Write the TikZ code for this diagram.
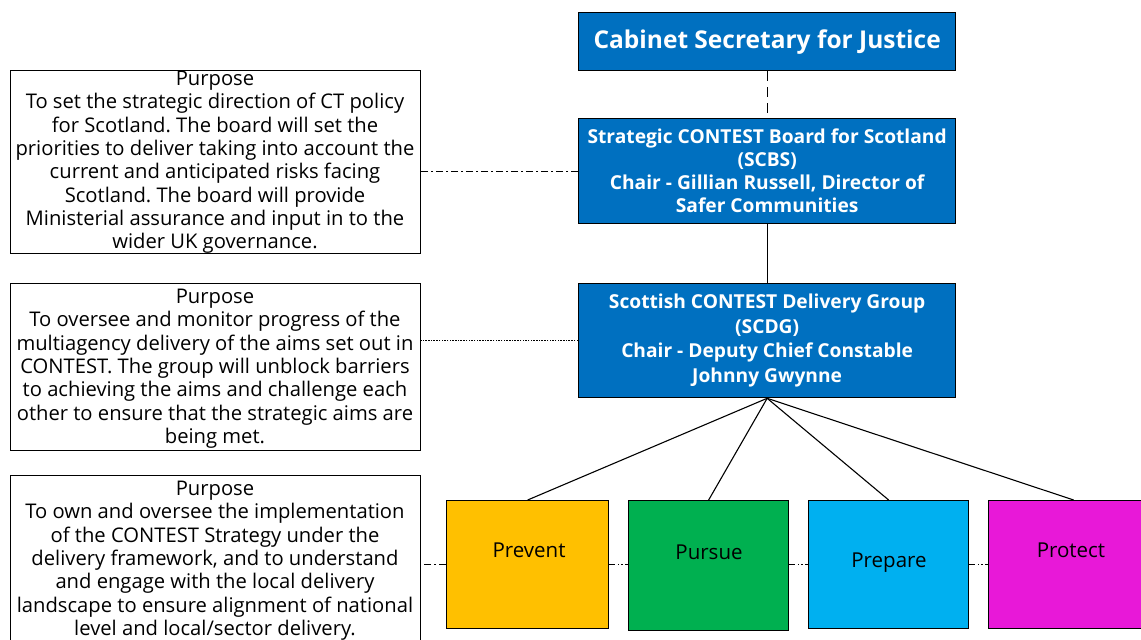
\documentclass[tikz,border=0pt]{standalone}
\usepackage{fontspec}
\setmainfont{Open Sans}
\frenchspacing
\definecolor{govblue}{HTML}{0070C0}
\definecolor{preventc}{HTML}{FFC000}
\definecolor{pursuec}{HTML}{00B050}
\definecolor{preparec}{HTML}{00B0F0}
\definecolor{protectc}{HTML}{E818D8}
\begin{document}
\begin{tikzpicture}[x=1pt,y=-1pt,
  purposebox/.style={draw=black, line width=1.3pt, fill=white, inner sep=0pt,
    anchor=north west, minimum width=410pt},
  purposetext/.style={align=center, font=\fontsize{20.2}{23.3}\selectfont,
    inner sep=0pt, anchor=north},
  bluebox/.style={draw=black, line width=1.3pt, fill=govblue, text=white,
    align=center, inner sep=0pt, anchor=north west, minimum width=377pt,
    font=\bfseries\fontsize{19.2}{23}\selectfont},
  strand/.style={draw=black, line width=1.3pt, inner sep=0pt, anchor=north west,
    minimum height=128pt},
  strandtext/.style={font=\fontsize{20.5}{24}\selectfont, text=black, inner sep=0pt},
  link/.style={draw=black, line width=1.1pt},
  dashdotlink/.style={link, dash pattern=on 7pt off 3pt on 2pt off 3pt},
  dashdotdotlink/.style={link, dash pattern=on 6pt off 2.5pt on 1.5pt off 2pt on 1.5pt off 2.5pt},
  dottedlink/.style={link, line width=1pt, dash pattern=on 1.5pt off 1.2pt},
  longdash/.style={link, line width=1.3pt, dash pattern=on 10pt off 6pt}
]
\useasboundingbox (0,0) rectangle (1141,640);
\clip (0,0) rectangle (1141,640);

% governance chain
\node[bluebox, minimum height=58pt, font=\bfseries\fontsize{24.5}{28}\selectfont]
  (cab) at (578,12) {Cabinet Secretary for Justice};
\node[bluebox, minimum height=105pt] (scbs) at (578,118)
  {Strategic CONTEST Board for Scotland\\(SCBS)\\Chair - Gillian Russell, Director of\\Safer Communities};
\node[bluebox, minimum height=114pt, font=\bfseries\fontsize{19.2}{24.5}\selectfont] (scdg) at (578,283)
  {Scottish CONTEST Delivery Group\\(SCDG)\\Chair - Deputy Chief Constable\\Johnny Gwynne};

% purpose statements
\node[purposebox, minimum height=183pt] (p1) at (10,70) {};
\node[purposetext] (p1text) at (215,71)
  {Purpose\\To set the strategic direction of CT policy\\for Scotland. The board will set the\\priorities to deliver taking into account the\\current and anticipated risks facing\\Scotland. The board will provide\\Ministerial assurance and input in to the\\wider UK governance.};
\node[purposebox, minimum height=167pt] (p2) at (10,283) {};
\node[purposetext] (p2text) at (215,289)
  {Purpose\\To oversee and monitor progress of the\\multiagency delivery of the aims set out in\\CONTEST. The group will unblock barriers\\to achieving the aims and challenge each\\other to ensure that the strategic aims are\\being met.};
\node[purposebox, minimum height=190pt] (p3) at (10,475) {};
\node[purposetext] (p3text) at (215,481)
  {Purpose\\To own and oversee the implementation\\of the CONTEST Strategy under the\\delivery framework, and to understand\\and engage with the local delivery\\landscape to ensure alignment of national\\level and local/sector delivery.};

% the four strands
\node[strand, fill=preventc, minimum width=162pt] (prevent) at (446,500) {};
\node[strand, fill=pursuec, minimum width=160pt, minimum height=130pt] (pursue) at (628,500) {};
\node[strand, fill=preparec, minimum width=160pt] (prepare) at (808,500) {};
\node[strand, fill=protectc, minimum width=170pt] (protect) at (988,500) {};
\node[strandtext] (preventt) at (529,550) {Prevent};
\node[strandtext] (pursuet) at (709,552) {Pursue};
\node[strandtext] (preparet) at (889,563) {Prepare};
\node[strandtext] (protectt) at (1071,550) {Protect};

% connectors
\draw[longdash] (cab.south) -- (scbs.north);
\draw[link, line width=1.3pt] (scbs.south) -- (scdg.north);
\draw[dashdotlink] (scbs.west) -- (scbs.west -| p1.east);
\draw[dottedlink] (scdg.west) -- (scdg.west -| p2.east);
\draw[dashdotlink] (prevent.west) -- (prevent.west -| p3.east);
\draw[dashdotdotlink] (prevent.east) -- (pursue.west |- prevent.east);
\draw[dashdotdotlink] (pursue.east |- prevent.east) -- (prepare.west);
\draw[dashdotdotlink] (prepare.east) -- (protect.west);
\foreach \s in {prevent,pursue,prepare,protect}
  \draw[link] (scdg.south) -- (\s.north);
\end{tikzpicture}
\end{document}
